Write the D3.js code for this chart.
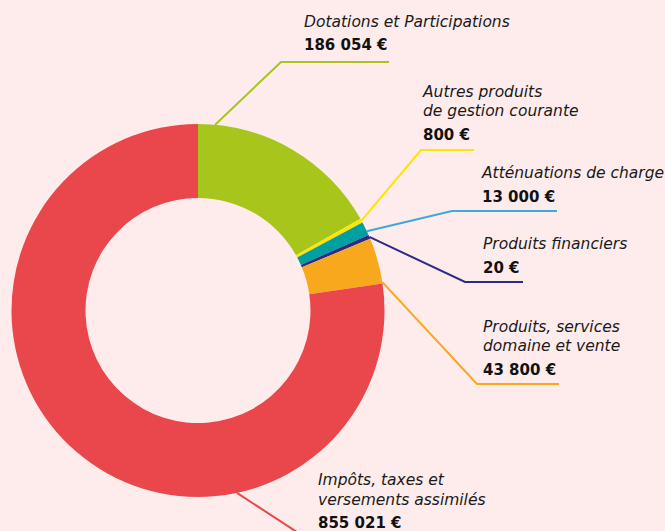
<!DOCTYPE html>
<html>
<head>
<meta charset="utf-8">
<script src="https://cdn.jsdelivr.net/npm/d3@7"></script>
<style>
  html, body { margin: 0; padding: 0; background: #fdeceb; }
  svg { display: block; }
</style>
</head>
<body>
<div id="chart"></div>
<script>
// ---- data ----
const categories = [
  "Dotations et Participations",
  "Autres produits de gestion courante",
  "Atténuations de charge",
  "Produits financiers",
  "Produits, services domaine et vente",
  "Impôts, taxes et versements assimilés"
];
const values = [186054, 800, 13000, 20, 43800, 855021];
const valueLabels = ["186 054 €", "800 €", "13 000 €", "20 €", "43 800 €", "855 021 €"];
const labelLines = [
  ["Dotations et Participations"],
  ["Autres produits", "de gestion courante"],
  ["Atténuations de charge"],
  ["Produits financiers"],
  ["Produits, services", "domaine et vente"],
  ["Impôts, taxes et", "versements assimilés"]
];

// ---- style / layout ----
const sliceColors = ["#a7c51a", "#ffe600", "#00a0a0", "#2e2a86", "#f7a81d", "#e9474b"];
const lineColors  = ["#a7c51a", "#ffe600", "#3aa9e0", "#2e2a86", "#f7a81d", "#e9474b"];
const W = 665, H = 531;
const cx = 198, cy = 310.5, R = 186.5, r = 112.5;
const minAngle = 1.3 * Math.PI / 180;
// leader layout: anchor fraction within slice, elbow point, line end x, text x, first baseline
const leaders = [
  { t: 0.087, elbow: [281, 62],  endX: 389, tx: 304, ty: 26.5 },
  { t: 0.5,   elbow: [421, 150], endX: 474, tx: 423, ty: 96.5 },
  { t: 0.7,   elbow: [452, 211], endX: 557, tx: 482, ty: 178.3 },
  { t: 0.5,   elbow: [465, 282], endX: 523, tx: 483, ty: 249 },
  { t: 0.97,  elbow: [477, 384], endX: 559, tx: 483, ty: 331.7 },
  { t: 0.31,  elbow: [303, 536], endX: 420, tx: 318, ty: 485 }
];

const svg = d3.select("#chart").append("svg")
  .attr("width", W).attr("height", H)
  .style("background", "#fdeceb");

// pie with a minimum visible angle for tiny slices
const total = d3.sum(values);
const rawAngles = values.map(v => v / total * 2 * Math.PI);
const small = rawAngles.map(a => a < minAngle);
const smallTotal = d3.sum(small.map((s) => s ? minAngle : 0));
const bigRaw = d3.sum(rawAngles.filter((a, i) => !small[i]));
const scaleBig = (2 * Math.PI - smallTotal) / bigRaw;
const displayWeights = rawAngles.map((a, i) => small[i] ? minAngle : a * scaleBig);

const pie = d3.pie().sort(null).value((d, i) => displayWeights[i]);
const arcs = pie(values);
const arc = d3.arc().innerRadius(r).outerRadius(R);

const g = svg.append("g").attr("transform", `translate(${cx},${cy})`);
g.selectAll("path.slice").data(arcs).join("path")
  .attr("class", "slice")
  .attr("d", arc)
  .attr("fill", (d, i) => sliceColors[i]);

// leaders
const lineGen = d3.line();
arcs.forEach((d, i) => {
  const L = leaders[i];
  const a = d.startAngle + (d.endAngle - d.startAngle) * L.t;
  const sx = cx + R * Math.sin(a), sy = cy - R * Math.cos(a);
  svg.append("path")
    .attr("d", lineGen([[sx, sy], L.elbow, [L.endX, L.elbow[1]]]))
    .attr("fill", "none")
    .attr("stroke", lineColors[i])
    .attr("stroke-width", 2);
});

// labels
const fontFam = "'DejaVu Sans', 'Open Sans', sans-serif";
leaders.forEach((L, i) => {
  const txt = svg.append("g");
  labelLines[i].forEach((ln, k) => {
    txt.append("text")
      .attr("x", L.tx).attr("y", L.ty + k * 19.5)
      .attr("font-family", fontFam)
      .attr("font-style", "italic")
      .attr("font-size", 15.5)
      .attr("fill", "#1a1a1a")
      .text(ln);
  });
  txt.append("text")
    .attr("x", L.tx).attr("y", L.ty + (labelLines[i].length - 1) * 19.5 + 23.5)
    .attr("font-family", fontFam)
    .attr("font-weight", "bold")
    .attr("font-size", 15)
    .attr("fill", "#111")
    .text(valueLabels[i]);
});
</script>
</body>
</html>
